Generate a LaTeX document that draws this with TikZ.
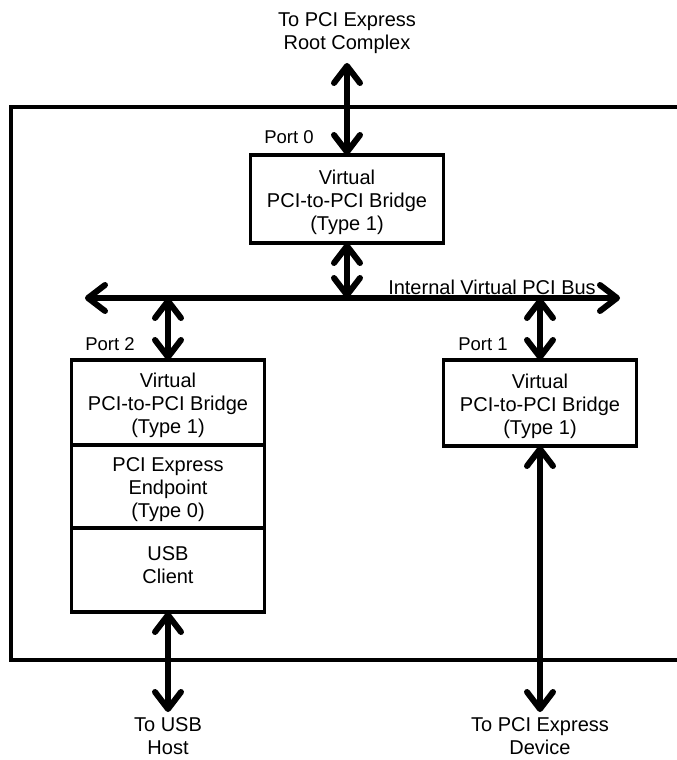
\documentclass[tikz,border=0pt]{standalone}
\usepackage{fontspec}
\setmainfont{Liberation Sans}
\usetikzlibrary{arrows.meta}
\begin{document}
\begin{tikzpicture}[x=1pt,y=-1pt,
  txt/.style={font=\fontsize{20}{23}\selectfont},
  box/.style={draw, line width=3.5pt, minimum width=193pt, inner sep=0pt, outer sep=0pt},
  lbl/.style={txt, align=center, inner sep=0pt},
  boxtext/.style={label={[lbl, yshift=-3pt]center:#1}},
  port/.style={font=\fontsize{18.5}{22}\selectfont, inner sep=0pt},
  barb/.tip={Straight Barb[length=17pt,width=26pt,round]},
  link/.style={line width=6pt, barb-barb}
]
\useasboundingbox (0,0) rectangle (677,760);
\clip (0,0) rectangle (677,760);

% switch enclosure, open on the right
\draw[line width=4pt] (700,107) -- (11,107) -- (11,660) -- (700,660);

% bridges and endpoint
\node[box, minimum height=88pt, boxtext={Virtual\\PCI-to-PCI Bridge\\(Type 1)}] (p0) at (347,199) {};
\node[box, minimum height=85pt, anchor=north, boxtext={Virtual\\PCI-to-PCI Bridge\\(Type 1)}] (p2) at (168,360) {};
\node[box, minimum height=83pt, anchor=north, boxtext={PCI Express\\Endpoint\\(Type 0)}] (ep) at (p2.south) {};
\node[box, minimum height=84pt, anchor=north,
      label={[lbl, yshift=5pt]center:USB\\Client}] (usb) at (ep.south) {};
\node[box, minimum height=86pt, boxtext={Virtual\\PCI-to-PCI Bridge\\(Type 1)}] (p1) at (540,403) {};

% port labels
\node[port] (l0) at (289,137) {Port 0};
\node[port] (l2) at (110,344) {Port 2};
\node[port] (l1) at (483,344) {Port 1};

% outside connections
\node[lbl] (rc) at (347,33) {To PCI Express\\Root Complex};
\node[lbl] (host) at (168,736) {To USB\\Host};
\node[lbl] (dev) at (540,736) {To PCI Express\\Device};
\coordinate (rcTip) at (347,63);
\coordinate (hostTip) at (168,712);
\coordinate (devTip) at (540,712);

% internal bus
\coordinate (busL) at (85,298);
\coordinate (busR) at (620,298);
\node[txt, inner sep=0pt] (busname) at (492,287) {Internal Virtual PCI Bus};

\draw[link] (busL) -- (busR);
\draw[link] (rcTip) -- (p0.north);
\draw[link] (p0.south) -- (p0.south |- busL);
\draw[link] (p2.north |- busL) -- (p2.north);
\draw[link] (p1.north |- busL) -- (p1.north);
\draw[link] (usb.south) -- (hostTip);
\draw[link] (p1.south) -- (devTip);
\end{tikzpicture}
\end{document}
